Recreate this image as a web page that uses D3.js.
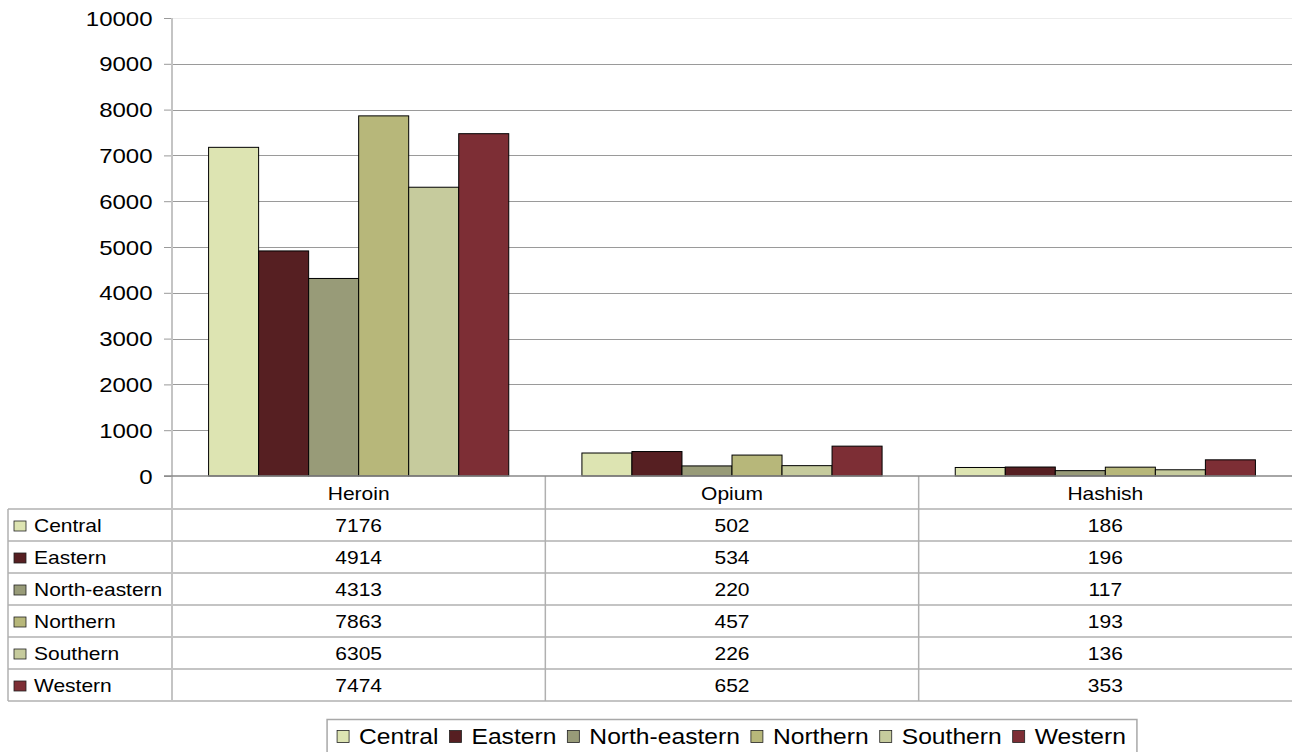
<!DOCTYPE html>
<html>
<head>
<meta charset="utf-8">
<script src="https://cdn.jsdelivr.net/npm/d3@7"></script>
<style>
  html, body { margin: 0; padding: 0; background: #fff; }
  svg { display: block; }
  text { font-family: "Liberation Sans", Arial, sans-serif; fill: #000; }
</style>
</head>
<body>
<svg id="chart" width="1292" height="752"></svg>
<script>
// ---- data ----
const categories = ["Heroin", "Opium", "Hashish"];
const regions = ["Central", "Eastern", "North-eastern", "Northern", "Southern", "Western"];
const central      = [7176, 502, 186];
const eastern      = [4914, 534, 196];
const northEastern = [4313, 220, 117];
const northern     = [7863, 457, 193];
const southern     = [6305, 226, 136];
const western      = [7474, 652, 353];
const yTicks = [0, 1000, 2000, 3000, 4000, 5000, 6000, 7000, 8000, 9000, 10000];
const colors = ["#DDE4B2", "#561F22", "#989B78", "#B7B77A", "#C6CB9D", "#7D2E35"];

const seriesValues = [central, eastern, northEastern, northern, southern, western];

// ---- layout ----
const svg = d3.select("#chart");
const plotLeft = 172, plotRight = 1292, plotTop = 18, plotBottom = 476;
const tableLeft = 8, tableTop = 509, tableBottom = 701;

const x = d3.scaleBand().domain(categories).range([plotLeft, plotRight]).padding(0);
const innerPad = x.bandwidth() * 0.098;
const xs = d3.scaleBand().domain(regions).range([innerPad, x.bandwidth() - innerPad]).padding(0);
const y = d3.scaleLinear().domain([0, 10000]).range([plotBottom, plotTop]);
const color = d3.scaleOrdinal().domain(regions).range(colors);
const rowY = d3.scaleBand().domain(regions).range([tableTop, tableBottom]).padding(0);

function stext(g, px, py, str, size, sx, anchor) {
  return g.append("text")
    .attr("transform", `translate(${px},${py}) scale(${sx},1)`)
    .attr("text-anchor", anchor)
    .attr("dy", "0.35em")
    .style("font-size", size + "px")
    .text(str);
}

// gridlines
const grid = svg.append("g");
grid.selectAll("line").data(yTicks.filter(t => t > 0)).join("line")
  .attr("x1", plotLeft).attr("x2", plotRight)
  .attr("y1", d => Math.round(y(d)) + 0.5).attr("y2", d => Math.round(y(d)) + 0.5)
  .attr("stroke", d => d === 10000 ? "#ececec" : "#9a9a9a")
  .attr("stroke-width", 1);

// y axis
const yAxis = svg.append("g")
  .attr("transform", `translate(${plotLeft},0)`)
  .call(d3.axisLeft(y).tickValues(yTicks).tickSize(8).tickFormat(d3.format("d")));
yAxis.select(".domain").remove();
yAxis.selectAll(".tick line").attr("stroke", "#9a9a9a");
yAxis.selectAll(".tick text")
  .attr("x", null).attr("dy", "0.35em")
  .attr("transform", "translate(-19.5,0) scale(1.2,1)")
  .style("font-size", "20px")
  .style("font-family", "'Liberation Sans', Arial, sans-serif")
  .attr("fill", "#000");

// bars
const barG = svg.append("g");
categories.forEach((cat, ci) => {
  regions.forEach((reg, ri) => {
    const v = seriesValues[ri][ci];
    barG.append("rect")
      .attr("x", x(cat) + xs(reg))
      .attr("y", y(v))
      .attr("width", xs.bandwidth())
      .attr("height", y(0) - y(v))
      .attr("fill", color(reg))
      .attr("stroke", "#000")
      .attr("stroke-width", 1);
  });
});

// table lines
const tbl = svg.append("g").attr("stroke", "#b0b0b0").attr("stroke-width", 1.5);
[tableTop].concat(regions.map(r => rowY(r) + rowY.bandwidth())).forEach(ly => {
  tbl.append("line").attr("x1", tableLeft).attr("x2", plotRight).attr("y1", ly).attr("y2", ly);
});
tbl.append("line").attr("x1", tableLeft).attr("x2", tableLeft).attr("y1", tableTop).attr("y2", tableBottom);
categories.slice(1).forEach(cat => {
  tbl.append("line").attr("x1", x(cat)).attr("x2", x(cat)).attr("y1", plotBottom).attr("y2", tableBottom);
});
svg.append("line").attr("x1", plotLeft).attr("x2", plotLeft).attr("y1", plotTop).attr("y2", tableBottom)
  .attr("stroke", "#c4c4c4").attr("stroke-width", 2);
svg.append("line").attr("x1", plotLeft - 8).attr("x2", plotRight).attr("y1", y(0)).attr("y2", y(0))
  .attr("stroke", "#888").attr("stroke-width", 1.5);

// table text
const tt = svg.append("g");
categories.forEach(cat => {
  stext(tt, x(cat) + x.bandwidth() / 2, (plotBottom + tableTop) / 2 + 1, cat, 17.5, 1.2, "middle");
});
regions.forEach((reg, ri) => {
  const cy = rowY(reg) + rowY.bandwidth() / 2 + 1;
  tt.append("rect").attr("x", 14).attr("y", cy - 5).attr("width", 12).attr("height", 10)
    .attr("fill", color(reg)).attr("stroke", "#222").attr("stroke-width", 0.8);
  stext(tt, 34, cy, reg, 17.5, 1.2, "start");
  categories.forEach((cat, ci) => {
    stext(tt, x(cat) + x.bandwidth() / 2, cy, String(seriesValues[ri][ci]), 17.5, 1.2, "middle");
  });
});

// legend
const leg = svg.append("g");
const legBox = leg.append("rect").attr("fill", "#fff").attr("stroke", "#a8a8a8").attr("stroke-width", 1.5);
const items = leg.append("g");
let cursor = 0;
const legCy = 736.5;
const legSx = 1.12;
regions.forEach((reg, i) => {
  items.append("rect").attr("x", cursor).attr("y", legCy - 6).attr("width", 12).attr("height", 12)
    .attr("fill", color(reg)).attr("stroke", "#222").attr("stroke-width", 0.8);
  const t = stext(items, cursor + 22, legCy, reg, 22, legSx, "start");
  const w = t.node().getComputedTextLength() * legSx;
  cursor += 22 + w + (i < regions.length - 1 ? 11 : 0);
});
const totalW = cursor;
const boxW = totalW + 21;
const boxLeft = (plotLeft + plotRight) / 2 - boxW / 2;
items.attr("transform", `translate(${boxLeft + 10},0)`);
legBox.attr("x", boxLeft).attr("y", 719.5).attr("width", boxW).attr("height", 40);
</script>
</body>
</html>
